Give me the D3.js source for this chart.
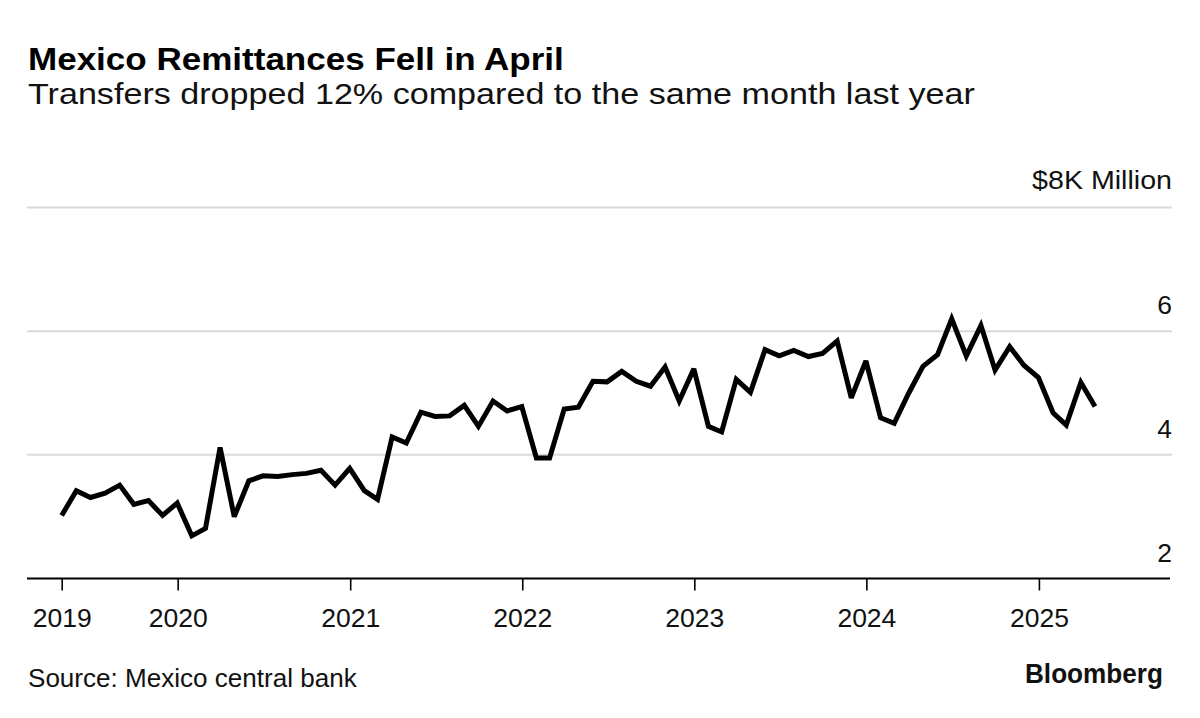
<!DOCTYPE html>
<html>
<head>
<meta charset="utf-8">
<script src="https://cdn.jsdelivr.net/npm/d3@7"></script>
<style>
  html, body { margin: 0; padding: 0; background: #fff; }
  svg { display: block; font-family: "Liberation Sans", Arial, Helvetica, sans-serif; }
</style>
</head>
<body>
<svg id="chart" width="1200" height="718"></svg>
<script>
// ---- data ----
const months = [
  "2019-04","2019-05","2019-06","2019-07","2019-08","2019-09","2019-10","2019-11","2019-12",
  "2020-01","2020-02","2020-03","2020-04","2020-05","2020-06","2020-07","2020-08","2020-09","2020-10","2020-11","2020-12",
  "2021-01","2021-02","2021-03","2021-04","2021-05","2021-06","2021-07","2021-08","2021-09","2021-10","2021-11","2021-12",
  "2022-01","2022-02","2022-03","2022-04","2022-05","2022-06","2022-07","2022-08","2022-09","2022-10","2022-11","2022-12",
  "2023-01","2023-02","2023-03","2023-04","2023-05","2023-06","2023-07","2023-08","2023-09","2023-10","2023-11","2023-12",
  "2024-01","2024-02","2024-03","2024-04","2024-05","2024-06","2024-07","2024-08","2024-09","2024-10","2024-11","2024-12",
  "2025-01","2025-02","2025-03","2025-04"
];
// Remittances, billions of US$ ("$K Million")
const remittances = [
  3.02, 3.42, 3.31, 3.38, 3.51, 3.20, 3.26, 3.02, 3.22,
  2.69, 2.81, 4.12, 3.00, 3.58, 3.66, 3.65, 3.68, 3.70, 3.75, 3.51, 3.78,
  3.42, 3.28, 4.29, 4.19, 4.69, 4.62, 4.63, 4.80, 4.46, 4.87, 4.71, 4.78,
  3.95, 3.95, 4.74, 4.77, 5.19, 5.18, 5.35, 5.19, 5.11, 5.42, 4.87, 5.39,
  4.46, 4.37, 5.22, 5.01, 5.70, 5.60, 5.69, 5.59, 5.64, 5.84, 4.92, 5.52,
  4.60, 4.51, 5.00, 5.43, 5.62, 6.20, 5.60, 6.09, 5.37, 5.75, 5.45, 5.25,
  4.68, 4.48, 5.17, 4.78
];
const yTicks = [2, 4, 6, 8];
const yTickLabels = ["2", "4", "6", "$8K Million"];
const xTickYears = [2019, 2020, 2021, 2022, 2023, 2024, 2025];

const title = "Mexico Remittances Fell in April";
const subtitle = "Transfers dropped 12% compared to the same month last year";
const source = "Source: Mexico central bank";
const brand = "Bloomberg";

// ---- build ----
const parseMonth = d3.timeParse("%Y-%m");
const data = months.map((m, i) => {
  const d = parseMonth(m);
  return { date: new Date(d.getFullYear(), d.getMonth() + 1, 0), value: remittances[i] };
});

const svg = d3.select("#chart");
const left = 27, right = 1172;

const x = d3.scaleTime()
  .domain([data[0].date, data[data.length - 1].date])
  .range([61.7, 1095]);
const y = d3.scaleLinear().domain([2, 8]).range([578.5, 207.5]);

const xTickDates = xTickYears.map((yr, i) => i === 0 ? data[0].date : new Date(yr, 0, 1));

// place text at (px,py) and stretch horizontally to the target width
function stretchText(sel, px, py, target) {
  sel.attr("x", 0).attr("y", 0);
  const w = sel.node().getComputedTextLength();
  const s = target / w;
  sel.attr("transform", `translate(${px},${py}) scale(${s.toFixed(4)},1)`);
}

// gridlines
svg.append("g").selectAll("line")
  .data(yTicks.filter(t => t !== 2))
  .join("line")
  .attr("x1", left).attr("x2", right)
  .attr("y1", d => y(d)).attr("y2", d => y(d))
  .attr("stroke", "#dadada").attr("stroke-width", 2);

// y labels
svg.append("g").selectAll("text")
  .data(yTicks)
  .join("text")
  .attr("text-anchor", "end")
  .attr("font-size", 25)
  .attr("fill", "#111")
  .text((d, i) => yTickLabels[i])
  .each(function (d) {
    const sel = d3.select(this);
    const py = y(d) - (d === 8 ? 18.5 : 16.8);
    if (d === 8) stretchText(sel, right, py, 140);
    else stretchText(sel, right, py, sel.node().getComputedTextLength() * 1.06);
  });

// x axis
const xAxis = d3.axisBottom(x)
  .tickValues(xTickDates)
  .tickSize(12)
  .tickPadding(0)
  .tickFormat((d, i) => String(xTickYears[i]));
const gx = svg.append("g").attr("transform", `translate(0,${y(2)})`).call(xAxis);
gx.select(".domain").remove();
gx.selectAll(".tick line").attr("stroke", "#000").attr("stroke-width", 1.6);
gx.selectAll(".tick text")
  .attr("font-size", 25.5)
  .attr("font-family", "Liberation Sans, Arial, sans-serif")
  .attr("fill", "#111")
  .attr("dy", null)
  .each(function () {
    const sel = d3.select(this);
    const w = sel.node().getComputedTextLength();
    stretchText(sel, 0, 48.5, 59);
  });
svg.append("line")
  .attr("x1", left).attr("x2", 1170)
  .attr("y1", y(2)).attr("y2", y(2))
  .attr("stroke", "#000").attr("stroke-width", 2);

// line
const line = d3.line().x(d => x(d.date)).y(d => y(d.value));
svg.append("path")
  .datum(data)
  .attr("d", line)
  .attr("fill", "none")
  .attr("stroke", "#000")
  .attr("stroke-width", 5)
  .attr("stroke-linejoin", "miter")
  .attr("stroke-miterlimit", 3);

// titles
const t = svg.append("text")
  .attr("font-size", 31).attr("font-weight", "bold").attr("fill", "#000").text(title);
stretchText(t, 28, 69.5, 536);
const st = svg.append("text")
  .attr("font-size", 29).attr("fill", "#111").text(subtitle);
stretchText(st, 28, 103.5, 947);

// footer
const src = svg.append("text")
  .attr("font-size", 25.5).attr("fill", "#111").text(source);
stretchText(src, 28, 686.5, 329);
const br = svg.append("text")
  .attr("font-size", 27).attr("font-weight", "bold").attr("fill", "#111").text(brand);
stretchText(br, 1025, 683, 138);
</script>
</body>
</html>
